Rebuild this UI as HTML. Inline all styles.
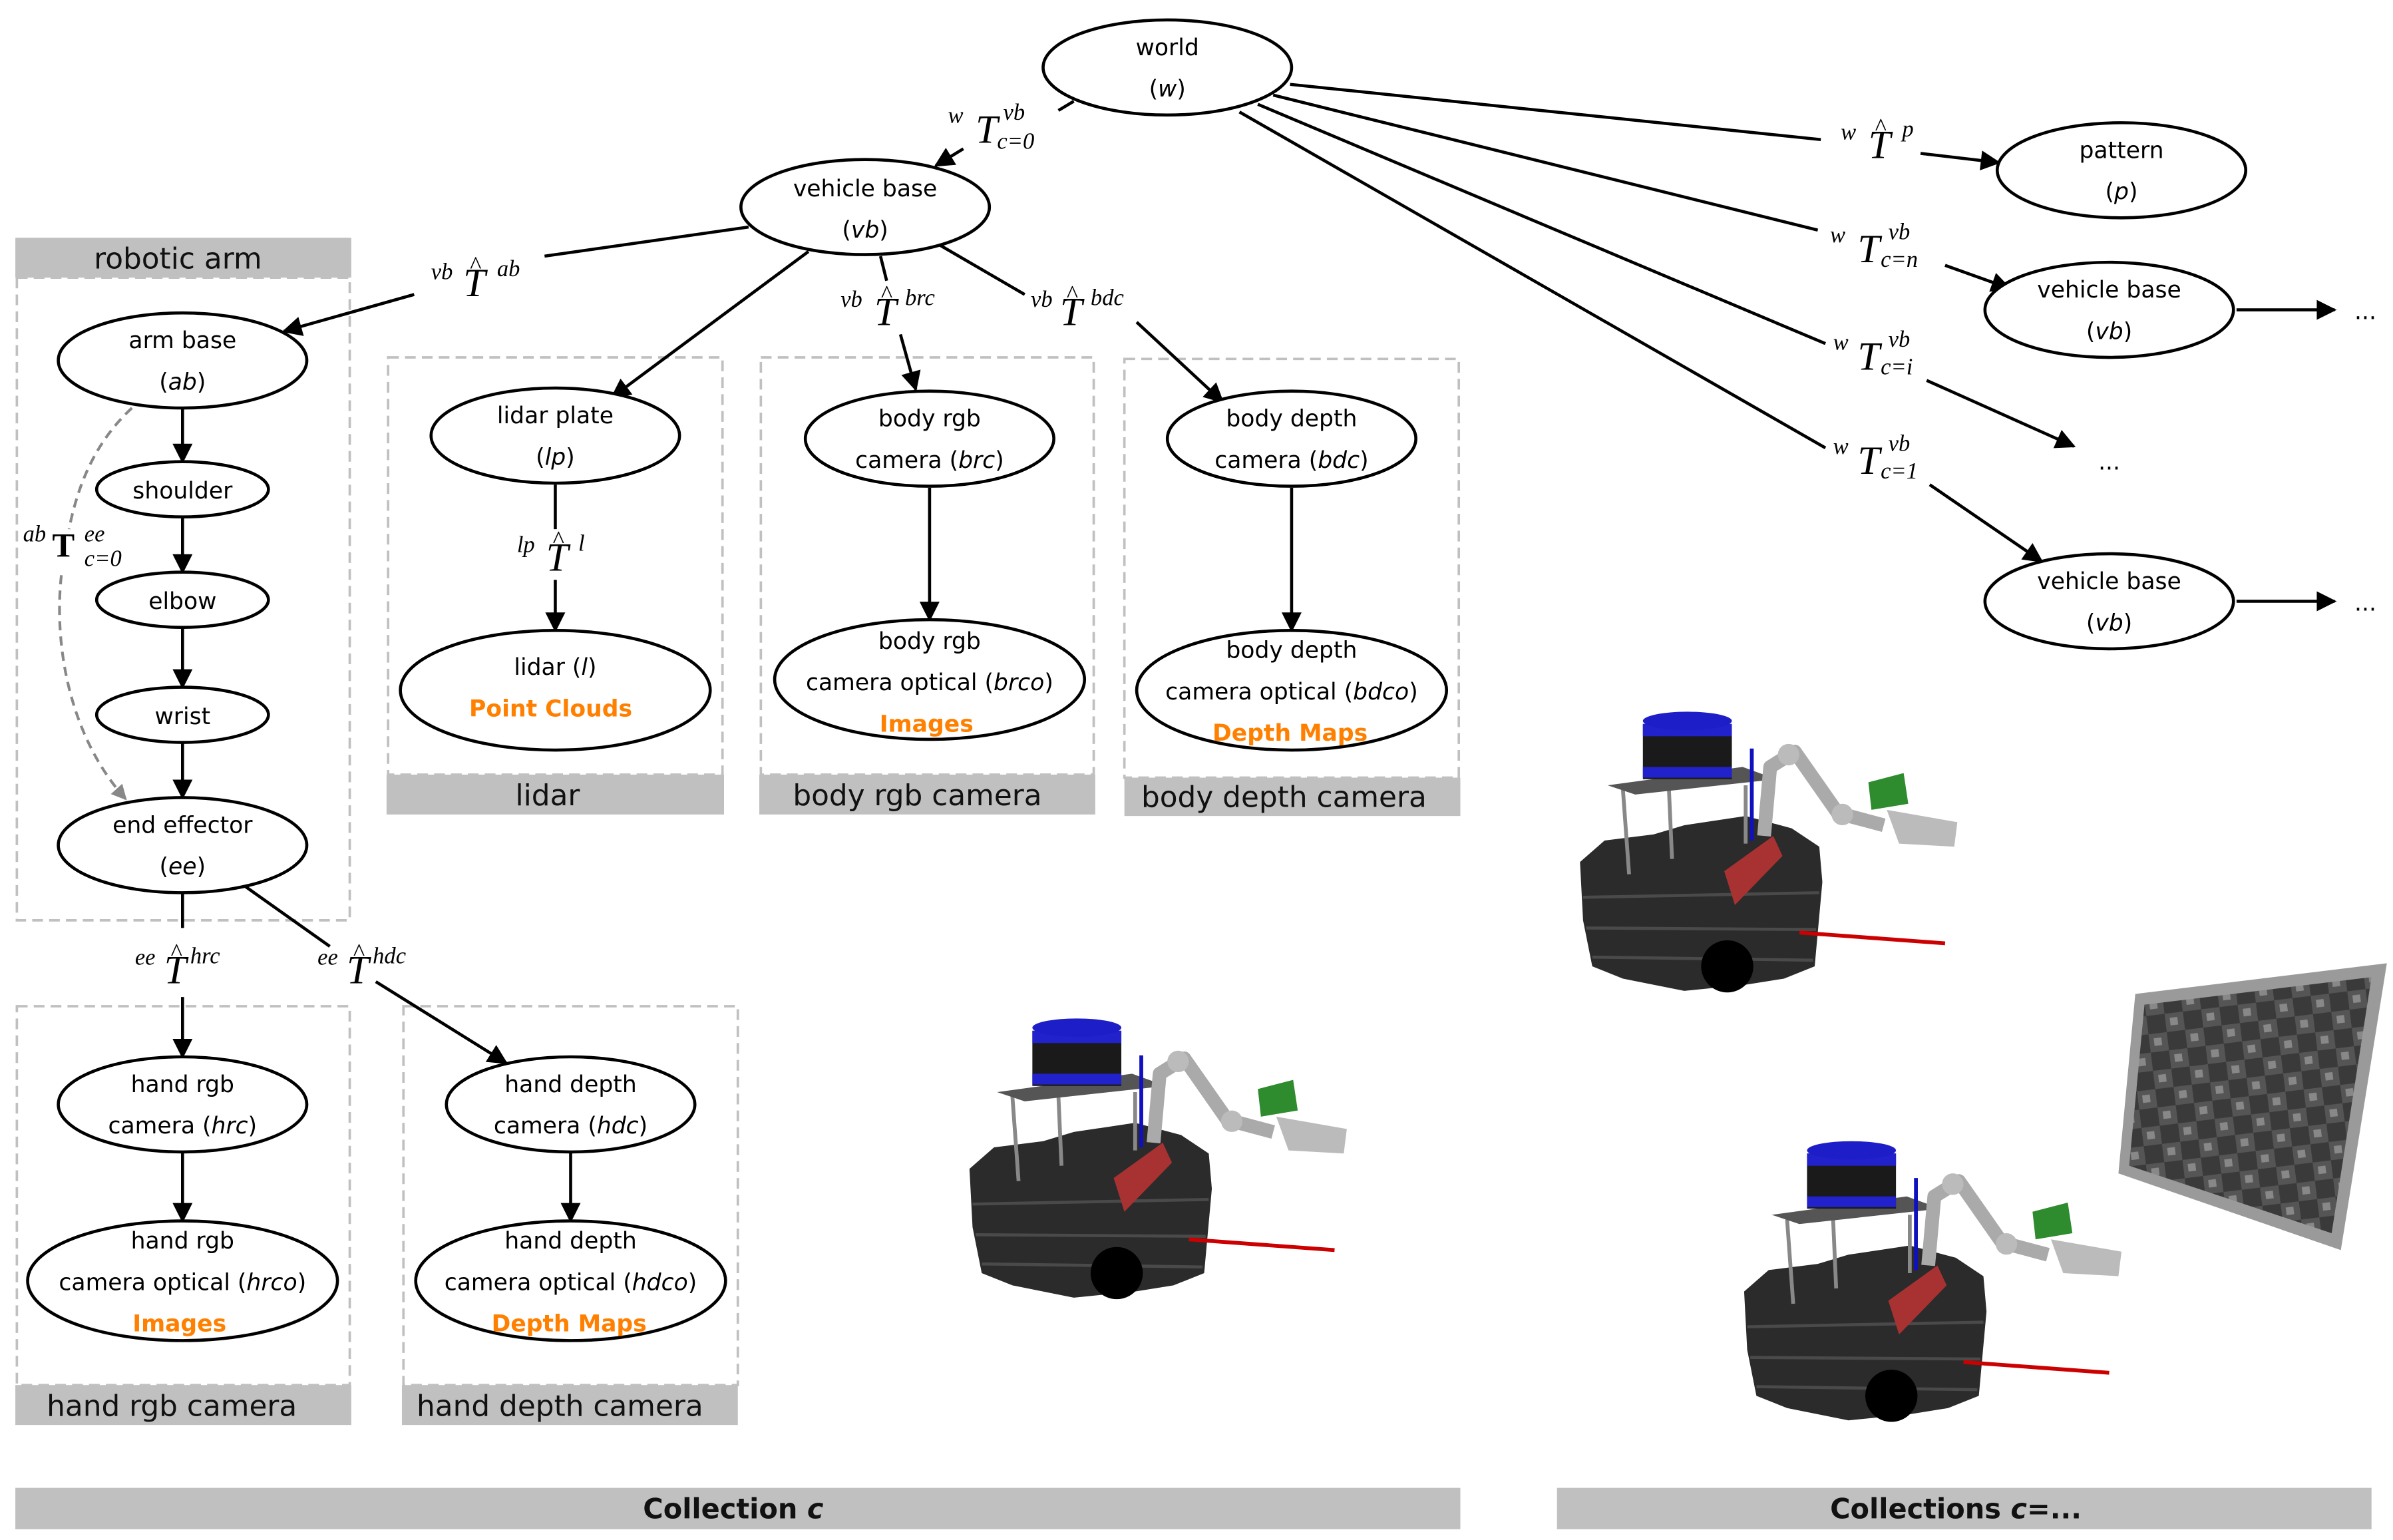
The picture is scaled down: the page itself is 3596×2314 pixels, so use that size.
<!DOCTYPE html>
<html><head><meta charset="utf-8"><style>
html,body{margin:0;padding:0;background:#fff;}
svg{display:block}
.n{font-family:"DejaVu Sans","Liberation Sans",sans-serif;font-size:15px;fill:#000;text-anchor:middle}
.o{font-family:"DejaVu Sans","Liberation Sans",sans-serif;font-size:15px;font-weight:bold;fill:#ff8000;text-anchor:middle}
.cl{font-family:"DejaVu Sans","Liberation Sans",sans-serif;font-size:19px;fill:#111;text-anchor:middle}
.cb{font-family:"DejaVu Sans","Liberation Sans",sans-serif;font-size:18px;font-weight:bold;fill:#111;text-anchor:middle}
.m{font-family:"Liberation Serif",serif;font-style:italic;fill:#000}
.s{font-size:15px}
.T{font-size:26px}
</style></head><body>
<svg width="3596" height="2314" viewBox="0 0 1560 1004" preserveAspectRatio="none" xmlns="http://www.w3.org/2000/svg">
<defs>
<marker id="a" viewBox="0 0 10 10" refX="9" refY="5" markerWidth="15" markerHeight="13" markerUnits="userSpaceOnUse" orient="auto"><path d="M0,0 L10,5 L0,10 z" fill="#000"/></marker>
<marker id="ag" viewBox="0 0 10 10" refX="9" refY="5" markerWidth="12" markerHeight="10" markerUnits="userSpaceOnUse" orient="auto"><path d="M0,0 L10,5 L0,10 z" fill="#888"/></marker>
<pattern id="chk" x="0" y="0" width="24" height="24" patternUnits="userSpaceOnUse" patternTransform="rotate(-7)">
 <rect width="24" height="24" fill="#555"/><rect width="12" height="12" fill="#3a3a3a"/><rect x="12" y="12" width="12" height="12" fill="#3a3a3a"/>
 <rect x="15" y="3" width="5" height="5" fill="#888"/><rect x="3" y="15" width="5" height="5" fill="#888"/>
</pattern>
<g id="robot">
 <path d="M632,762 L648,748 L680,744 L700,738 L740,732 L770,740 L788,752 L790,775 L785,830 L765,838 L740,842 L700,846 L660,838 L640,830 L634,800 Z" fill="#2b2b2b"/>
 <path d="M634,785 L788,782 M636,805 L786,806 M640,824 L784,826" stroke="#4a4a4a" stroke-width="2"/>
 <line x1="660" y1="715" x2="664" y2="770" stroke="#888" stroke-width="2.5"/>
 <line x1="690" y1="715" x2="692" y2="760" stroke="#888" stroke-width="2.5"/>
 <line x1="740" y1="712" x2="740" y2="750" stroke="#888" stroke-width="2.5"/>
 <path d="M650,712 L738,700 L760,708 L668,718 Z" fill="#555"/>
 <rect x="673" y="672" width="58" height="36" fill="#1a1a1a"/>
 <rect x="673" y="672" width="58" height="8" fill="#2222cc"/>
 <rect x="673" y="700" width="58" height="7" fill="#2222cc"/>
 <ellipse cx="702" cy="670" rx="29" ry="6" fill="#1e1ec8"/>
 <line x1="744" y1="688" x2="744" y2="748" stroke="#1010c0" stroke-width="2.5"/>
 <path d="M752,745 L756,700 L772,690 L800,730 L830,738" stroke="#aaa" stroke-width="9" fill="none" stroke-linejoin="round"/>
 <circle cx="768" cy="692" r="7" fill="#bbb"/><circle cx="803" cy="731" r="7" fill="#bbb"/>
 <path d="M832,728 L878,736 L876,752 L840,750 Z" fill="#bbb"/>
 <path d="M820,710 L843,704 L846,724 L822,728 Z" fill="#2e8b2e"/>
 <path d="M726,768 L758,745 L764,758 L733,790 Z" fill="#a83232"/>
 <line x1="775" y1="808" x2="870" y2="815" stroke="#c00" stroke-width="2.5"/>
 <circle cx="728" cy="830" r="17" fill="#000"/>
</g>
</defs>

<!-- clusters -->
<g fill="none" stroke="#c0c0c0" stroke-width="1.6" stroke-dasharray="7,4">
<rect x="11" y="181" width="217" height="419"/>
<rect x="253" y="233" width="218" height="272"/>
<rect x="496" y="233" width="217" height="272"/>
<rect x="733" y="234" width="218" height="273"/>
<rect x="11" y="656" width="217" height="247"/>
<rect x="263" y="656" width="218" height="247"/>
</g>
<g fill="#c0c0c0">
<rect x="10" y="155" width="219" height="26"/>
<rect x="252" y="505" width="220" height="26"/>
<rect x="495" y="505" width="219" height="26"/>
<rect x="733" y="507" width="219" height="25"/>
<rect x="10" y="903" width="219" height="26"/>
<rect x="262" y="903" width="219" height="26"/>
<rect x="10" y="970" width="942" height="27"/>
<rect x="1015" y="970" width="531" height="27"/>
</g>
<text class="cl" x="116" y="175">robotic arm</text>
<text class="cl" x="357" y="525">lidar</text>
<text class="cl" x="598" y="525">body rgb camera</text>
<text class="cl" x="837" y="526">body depth camera</text>
<text class="cl" x="112" y="923">hand rgb camera</text>
<text class="cl" x="365" y="923">hand depth camera</text>
<text class="cb" x="478" y="990">Collection <tspan font-style="italic">c</tspan></text>
<text class="cb" x="1275" y="990">Collections <tspan font-style="italic">c</tspan>=...</text>

<!-- edges -->
<g stroke="#000" stroke-width="2" fill="none">
<line x1="700" y1="66" x2="690" y2="72"/>
<line x1="628" y1="97" x2="610" y2="108" marker-end="url(#a)"/>
<line x1="841" y1="55" x2="1187" y2="91"/>
<line x1="1252" y1="100" x2="1303" y2="106" marker-end="url(#a)"/>
<line x1="830" y1="62" x2="1185" y2="150"/>
<line x1="1268" y1="173" x2="1310" y2="188" marker-end="url(#a)"/>
<line x1="820" y1="68" x2="1190" y2="224"/>
<line x1="1256" y1="248" x2="1352" y2="291" marker-end="url(#a)"/>
<line x1="808" y1="73" x2="1190" y2="292"/>
<line x1="1258" y1="316" x2="1331" y2="366" marker-end="url(#a)"/>
<line x1="1458" y1="202" x2="1522" y2="202" marker-end="url(#a)"/>
<line x1="1458" y1="392" x2="1522" y2="392" marker-end="url(#a)"/>
<line x1="488" y1="148" x2="355" y2="167"/>
<line x1="270" y1="192" x2="185" y2="216" marker-end="url(#a)"/>
<line x1="527" y1="164" x2="399" y2="259" marker-end="url(#a)"/>
<line x1="574" y1="167" x2="578" y2="183"/>
<line x1="587" y1="218" x2="597" y2="254" marker-end="url(#a)"/>
<line x1="613" y1="160" x2="668" y2="192"/>
<line x1="741" y1="210" x2="797" y2="262" marker-end="url(#a)"/>
<line x1="362" y1="316" x2="362" y2="345"/>
<line x1="362" y1="378" x2="362" y2="411" marker-end="url(#a)"/>
<line x1="606" y1="318" x2="606" y2="404" marker-end="url(#a)"/>
<line x1="842" y1="318" x2="842" y2="411" marker-end="url(#a)"/>
<line x1="119" y1="266" x2="119" y2="301" marker-end="url(#a)"/>
<line x1="119" y1="337" x2="119" y2="373" marker-end="url(#a)"/>
<line x1="119" y1="409" x2="119" y2="448" marker-end="url(#a)"/>
<line x1="119" y1="484" x2="119" y2="520" marker-end="url(#a)"/>
<line x1="119" y1="582" x2="119" y2="605"/>
<line x1="119" y1="650" x2="119" y2="689" marker-end="url(#a)"/>
<line x1="160" y1="578" x2="215" y2="617"/>
<line x1="245" y1="640" x2="330" y2="693" marker-end="url(#a)"/>
<line x1="119" y1="751" x2="119" y2="796" marker-end="url(#a)"/>
<line x1="372" y1="751" x2="372" y2="796" marker-end="url(#a)"/>
</g>
<path d="M86,266 C60,290 50,320 45,345 M40,375 C35,420 45,480 82,521" stroke="#888" stroke-width="1.8" stroke-dasharray="6,4" fill="none" marker-end="url(#ag)"/>

<!-- nodes -->
<g fill="#fff" stroke="#000" stroke-width="2">
<ellipse cx="761" cy="44" rx="81" ry="31"/>
<ellipse cx="564" cy="135" rx="81" ry="31"/>
<ellipse cx="1383" cy="111" rx="81" ry="31"/>
<ellipse cx="1375" cy="202" rx="81" ry="31"/>
<ellipse cx="1375" cy="392" rx="81" ry="31"/>
<ellipse cx="119" cy="235" rx="81" ry="31"/>
<ellipse cx="119" cy="319" rx="56" ry="18"/>
<ellipse cx="119" cy="391" rx="56" ry="18"/>
<ellipse cx="119" cy="466" rx="56" ry="18"/>
<ellipse cx="119" cy="551" rx="81" ry="31"/>
<ellipse cx="362" cy="284" rx="81" ry="31"/>
<ellipse cx="362" cy="450" rx="101" ry="39"/>
<ellipse cx="606" cy="286" rx="81" ry="31"/>
<ellipse cx="606" cy="443" rx="101" ry="39"/>
<ellipse cx="842" cy="286" rx="81" ry="31"/>
<ellipse cx="842" cy="450" rx="101" ry="39"/>
<ellipse cx="119" cy="720" rx="81" ry="31"/>
<ellipse cx="119" cy="835" rx="101" ry="39"/>
<ellipse cx="372" cy="720" rx="81" ry="31"/>
<ellipse cx="372" cy="835" rx="101" ry="39"/>
</g>
<g>
<text class="n" x="761" y="36">world</text><text class="n" x="761" y="63">(<tspan font-style="italic">w</tspan>)</text>
<text class="n" x="564" y="128">vehicle base</text><text class="n" x="564" y="155">(<tspan font-style="italic">vb</tspan>)</text>
<text class="n" x="1383" y="103">pattern</text><text class="n" x="1383" y="130">(<tspan font-style="italic">p</tspan>)</text>
<text class="n" x="1375" y="194">vehicle base</text><text class="n" x="1375" y="221">(<tspan font-style="italic">vb</tspan>)</text>
<text class="n" x="1375" y="384">vehicle base</text><text class="n" x="1375" y="411">(<tspan font-style="italic">vb</tspan>)</text>
<text class="n" x="1542" y="208">...</text><text class="n" x="1375" y="306">...</text><text class="n" x="1542" y="398">...</text>
<text class="n" x="119" y="227">arm base</text><text class="n" x="119" y="254">(<tspan font-style="italic">ab</tspan>)</text>
<text class="n" x="119" y="325">shoulder</text>
<text class="n" x="119" y="397">elbow</text>
<text class="n" x="119" y="472">wrist</text>
<text class="n" x="119" y="543">end effector</text><text class="n" x="119" y="570">(<tspan font-style="italic">ee</tspan>)</text>
<text class="n" x="362" y="276">lidar plate</text><text class="n" x="362" y="303">(<tspan font-style="italic">lp</tspan>)</text>
<text class="n" x="362" y="440">lidar (<tspan font-style="italic">l</tspan>)</text><text class="o" x="359" y="467">Point Clouds</text>
<text class="n" x="606" y="278">body rgb</text><text class="n" x="606" y="305">camera (<tspan font-style="italic">brc</tspan>)</text>
<text class="n" x="606" y="423">body rgb</text><text class="n" x="606" y="450">camera optical (<tspan font-style="italic">brco</tspan>)</text><text class="o" x="604" y="477">Images</text>
<text class="n" x="842" y="278">body depth</text><text class="n" x="842" y="305">camera (<tspan font-style="italic">bdc</tspan>)</text>
<text class="n" x="842" y="429">body depth</text><text class="n" x="842" y="456">camera optical (<tspan font-style="italic">bdco</tspan>)</text><text class="o" x="841" y="483">Depth Maps</text>
<text class="n" x="119" y="712">hand rgb</text><text class="n" x="119" y="739">camera (<tspan font-style="italic">hrc</tspan>)</text>
<text class="n" x="119" y="814">hand rgb</text><text class="n" x="119" y="841">camera optical (<tspan font-style="italic">hrco</tspan>)</text><text class="o" x="117" y="868">Images</text>
<text class="n" x="372" y="712">hand depth</text><text class="n" x="372" y="739">camera (<tspan font-style="italic">hdc</tspan>)</text>
<text class="n" x="372" y="814">hand depth</text><text class="n" x="372" y="841">camera optical (<tspan font-style="italic">hdco</tspan>)</text><text class="o" x="371" y="868">Depth Maps</text>
</g>

<!-- math labels -->
<g class="m">
<text x="618" y="80" class="s">w</text><text x="636" y="93" class="T">T</text><text x="654" y="78" class="s">vb</text><text x="650" y="97" class="s">c=0</text>
<text x="1200" y="91" class="s">w</text><text x="1218" y="103" class="T">T</text><text x="1222" y="88" font-size="16">^</text><text x="1240" y="89" class="s">p</text>
<text x="1193" y="158" class="s">w</text><text x="1211" y="171" class="T">T</text><text x="1231" y="156" class="s">vb</text><text x="1226" y="174" class="s">c=n</text>
<text x="1195" y="228" class="s">w</text><text x="1211" y="241" class="T">T</text><text x="1231" y="226" class="s">vb</text><text x="1226" y="244" class="s">c=i</text>
<text x="1195" y="296" class="s">w</text><text x="1211" y="309" class="T">T</text><text x="1231" y="294" class="s">vb</text><text x="1226" y="312" class="s">c=1</text>
<text x="281" y="182" class="s">vb</text><text x="302" y="193" class="T">T</text><text x="306" y="178" font-size="16">^</text><text x="324" y="180" class="s">ab</text>
<text x="548" y="200" class="s">vb</text><text x="570" y="212" class="T">T</text><text x="574" y="197" font-size="16">^</text><text x="590" y="199" class="s">brc</text>
<text x="672" y="200" class="s">vb</text><text x="691" y="212" class="T">T</text><text x="695" y="197" font-size="16">^</text><text x="711" y="199" class="s">bdc</text>
<text x="337" y="360" class="s">lp</text><text x="356" y="372" class="T">T</text><text x="360" y="357" font-size="16">^</text><text x="377" y="359" class="s">l</text>
<text x="88" y="629" class="s">ee</text><text x="107" y="641" class="T">T</text><text x="111" y="626" font-size="16">^</text><text x="124" y="628" class="s">hrc</text>
<text x="207" y="629" class="s">ee</text><text x="226" y="641" class="T">T</text><text x="230" y="626" font-size="16">^</text><text x="243" y="628" class="s">hdc</text>
<text x="15" y="353" class="s">ab</text><text x="34" y="363" font-size="22" font-style="normal" font-weight="bold">T</text><text x="55" y="353" class="s">ee</text><text x="55" y="369" class="s">c=0</text>
</g>

<!-- robots -->
<use href="#robot"/>
<use href="#robot" transform="translate(398,-200)"/>
<use href="#robot" transform="translate(505,80)"/>
<!-- checkerboard -->
<path d="M1392,648 L1556,628 L1526,815 L1381,765 Z" fill="#9a9a9a"/>
<path d="M1398,655 L1546,637 L1520,804 L1388,760 Z" fill="url(#chk)"/>
</svg>
</body></html>
